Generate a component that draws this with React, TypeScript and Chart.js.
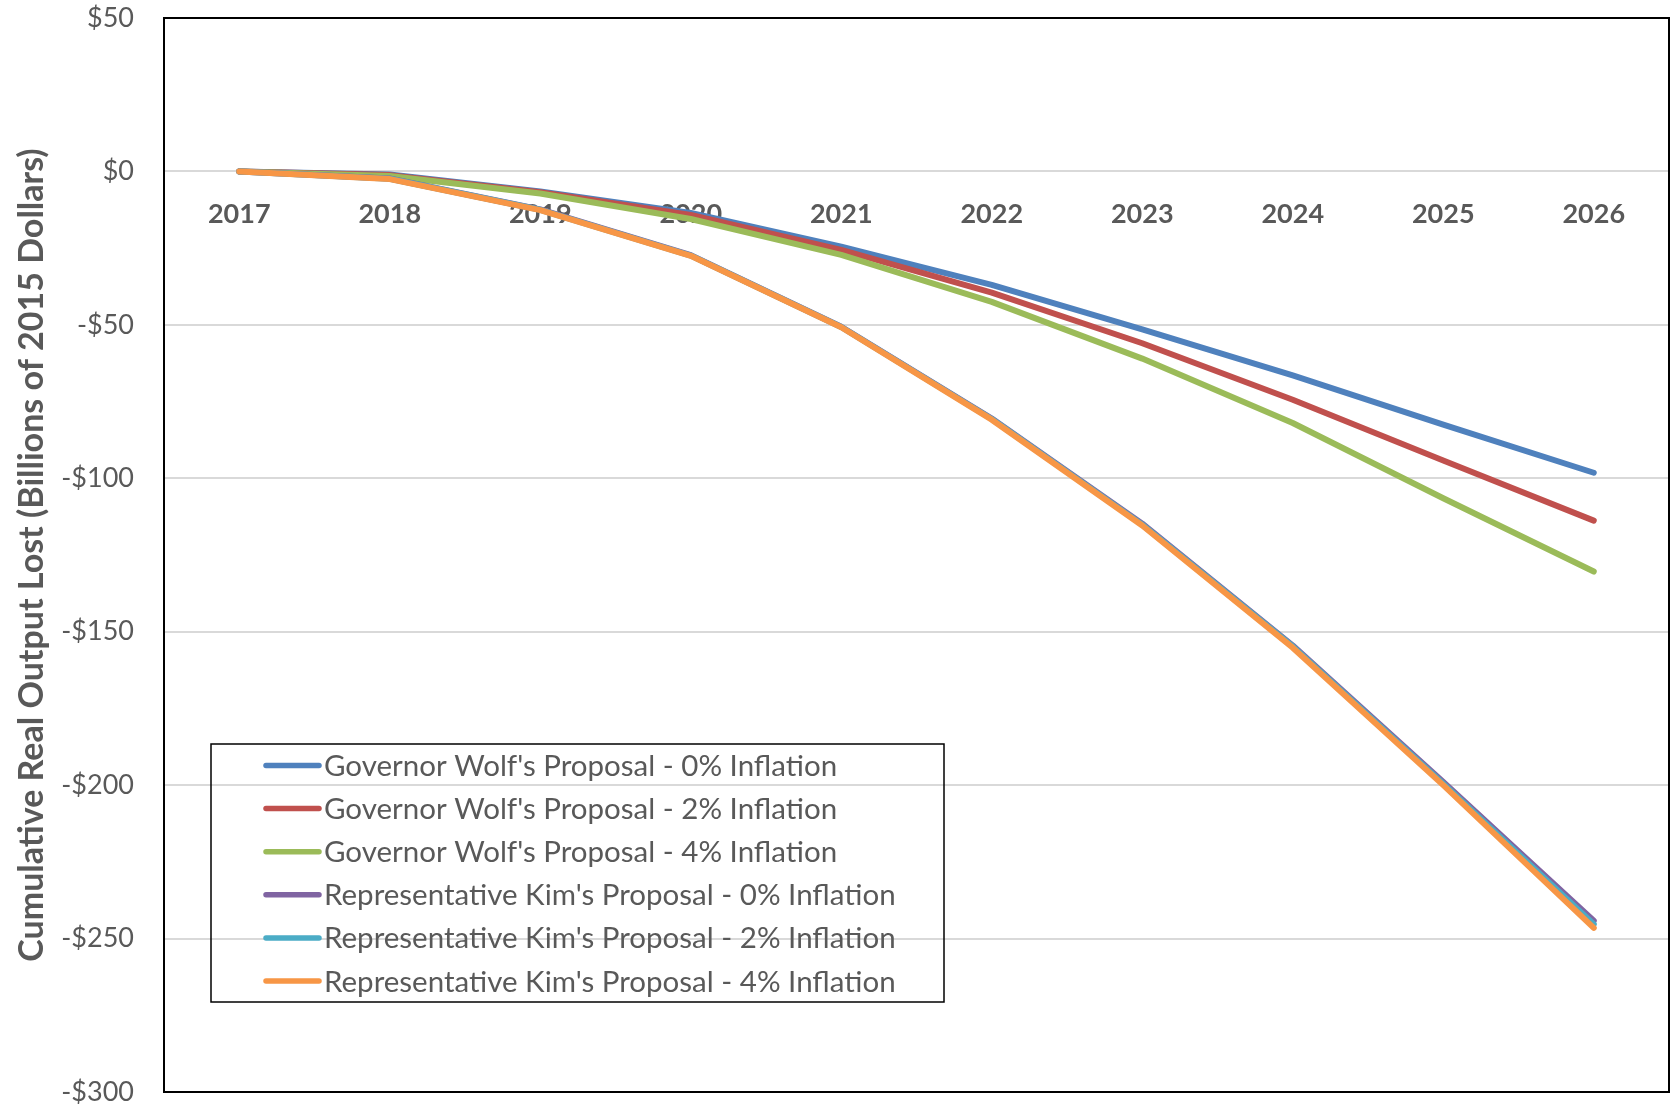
import { useEffect, useRef } from "react";
import { Chart, registerables } from "chart.js";

Chart.register(...registerables);

// Category axis: projection years
const years = ["2017", "2018", "2019", "2020", "2021", "2022", "2023", "2024", "2025", "2026"];

// Cumulative real output lost, billions of 2015 dollars
const wolf0 = [0, -1.0, -6.5, -13.5, -24.5, -37.0, -51.5, -66.5, -82.5, -98.2];
const wolf2 = [0, -1.2, -6.8, -14.2, -25.6, -39.5, -56.0, -74.4, -94.2, -113.8];
const wolf4 = [0, -1.5, -7.2, -15.5, -27.2, -42.5, -61.0, -82.0, -106.5, -130.4];
const kim0 = [0, -2.3, -12.4, -27.3, -50.6, -80.5, -114.8, -154.5, -199.0, -244.2];
const kim2 = [0, -2.4, -12.5, -27.4, -50.7, -80.7, -115.1, -154.8, -199.5, -245.3];
const kim4 = [0, -2.5, -12.6, -27.5, -50.8, -80.9, -115.4, -155.2, -200.0, -246.5];

const seriesNames = [
  "Governor Wolf's Proposal - 0% Inflation",
  "Governor Wolf's Proposal - 2% Inflation",
  "Governor Wolf's Proposal - 4% Inflation",
  "Representative Kim's Proposal - 0% Inflation",
  "Representative Kim's Proposal - 2% Inflation",
  "Representative Kim's Proposal - 4% Inflation",
];
const seriesValues = [wolf0, wolf2, wolf4, kim0, kim2, kim4];
const seriesColors = ["#4F81BD", "#C0504D", "#9BBB59", "#8064A2", "#4BACC6", "#F79646"];

// Value axis range and tick step
const yMin = -300;
const yMax = 50;
const yStep = 50;

const yTitle = "Cumulative Real Output Lost (Billions of 2015 Dollars)";

const TEXT = "#595959";
const FONT = "Lato, 'Open Sans', sans-serif";

const money = (v: number) => (v < 0 ? "-$" + Math.abs(v) : "$" + v);

// Black frame around the plot area
const framePlugin = {
  id: "plotFrame",
  afterDatasetsDraw(chart: any) {
    const { ctx, chartArea } = chart;
    ctx.save();
    ctx.strokeStyle = "#000";
    ctx.lineWidth = 2;
    ctx.strokeRect(chartArea.left, chartArea.top, chartArea.right - chartArea.left, chartArea.bottom - chartArea.top);
    ctx.restore();
  },
};

// Boxed legend placed inside the plot area
const boxLegendPlugin = {
  id: "boxLegend",
  afterDraw(chart: any) {
    const { ctx, chartArea } = chart;
    const left = chartArea.left + 47;
    const top = 744;
    const width = 733;
    const rowH = 43.1;
    const height = 258;
    ctx.save();
    ctx.strokeStyle = "#000";
    ctx.lineWidth = 1.5;
    ctx.strokeRect(left, top, width, height);
    ctx.font = `29.5px ${FONT}`;
    ctx.textBaseline = "middle";
    ctx.textAlign = "left";
    chart.data.datasets.forEach((ds: any, i: number) => {
      const y = top + 21.5 + i * rowH;
      ctx.strokeStyle = ds.borderColor;
      ctx.lineWidth = 5.5;
      ctx.lineCap = "round";
      ctx.beginPath();
      ctx.moveTo(left + 55, y);
      ctx.lineTo(left + 108, y);
      ctx.stroke();
      ctx.fillStyle = TEXT;
      ctx.fillText(ds.label, left + 113, y + 1);
    });
    ctx.restore();
  },
};

export default function App() {
  const canvasRef = useRef<HTMLCanvasElement | null>(null);

  useEffect(() => {
    const canvas = canvasRef.current;
    if (!canvas) return;
    const chart = new Chart(canvas, {
      type: "line",
      data: {
        labels: years,
        datasets: seriesValues.map((values, i) => ({
          label: seriesNames[i],
          data: values,
          borderColor: seriesColors[i],
          backgroundColor: seriesColors[i],
          borderWidth: 6,
          pointRadius: 0,
          pointHoverRadius: 0,
          borderCapStyle: "round" as const,
          borderJoinStyle: "round" as const,
          tension: 0,
          fill: false,
          order: seriesValues.length - i,
        })),
      },
      options: {
        responsive: false,
        animation: false,
        devicePixelRatio: 1,
        layout: { padding: { top: 18, right: 5, bottom: 17, left: 0 } },
        plugins: {
          legend: { display: false },
          tooltip: { enabled: false },
          title: { display: false },
        },
        scales: {
          x: {
            type: "category",
            position: { y: 0 } as any,
            offset: true,
            grid: { display: false, drawTicks: false },
            border: { display: false },
            ticks: {
              color: TEXT,
              font: { family: FONT, size: 27, weight: "bold" },
              padding: 27,
              maxRotation: 0,
              autoSkip: false,
            },
            afterFit: (scale: any) => {
              scale.height = 0;
            },
          },
          y: {
            min: yMin,
            max: yMax,
            grid: { color: "#D9D9D9", lineWidth: 2, drawTicks: false },
            border: { display: false },
            ticks: {
              stepSize: yStep,
              color: TEXT,
              font: { family: FONT, size: 27 },
              padding: 30,
              callback: (v: any) => money(Number(v)),
            },
            title: {
              display: true,
              text: yTitle,
              color: TEXT,
              font: { family: FONT, size: 34, weight: "bold" },
              padding: { top: 12, bottom: 0 },
            },
            afterFit: (scale: any) => {
              scale.width = 164;
              scale.paddingTop = 0;
              scale.paddingBottom = 0;
            },
          },
        },
      },
      plugins: [framePlugin, boxLegendPlugin],
    });
    return () => chart.destroy();
  }, []);

  return (
    <div style={{ position: "fixed", left: 0, top: 0, width: 1674, height: 1109, background: "#fff" }}>
      <canvas ref={canvasRef} width={1674} height={1109} />
    </div>
  );
}
